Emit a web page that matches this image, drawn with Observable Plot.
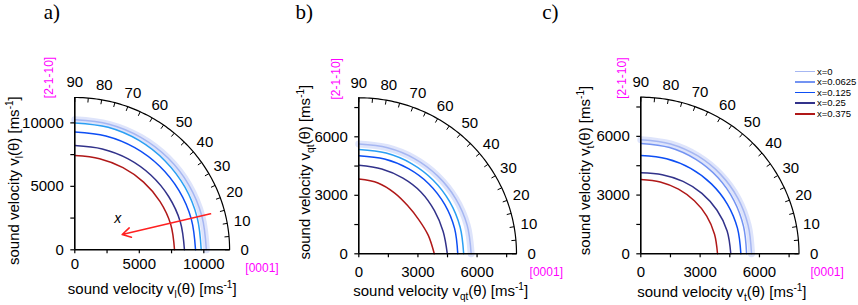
<!DOCTYPE html>
<html>
<head>
<meta charset="utf-8">
<script src="https://cdn.jsdelivr.net/npm/d3@7"></script>
<script src="https://cdn.jsdelivr.net/npm/@observablehq/plot@0.6"></script>
<style>
html,body{margin:0;padding:0;background:#fff;}
#wrap{position:relative;width:858px;height:305px;overflow:hidden;background:#fff;font-family:"Liberation Sans",Arial,sans-serif;}
#wrap svg{position:absolute;left:0;top:0;}
.lg-row{position:absolute;left:795px;height:11px;width:63px;}
.lg-line{position:absolute;left:0;top:5px;width:20px;height:1.6px;}
.lg-text{position:absolute;left:22px;top:0px;font-size:9.5px;line-height:11px;white-space:nowrap;color:#000;}
</style>
</head>
<body>
<div id="wrap"></div>
<script>
// ---------------- data ----------------
const angles = [0, 15, 30, 45, 60, 75, 90];          // θ (deg) from [0001]
const seriesNames = ["x=0", "x=0.0625", "x=0.125", "x=0.25", "x=0.375"];
const arcLabels = [0, 10, 20, 30, 40, 50, 60, 70, 80, 90];

// a) v_l(θ) [m/s]
const vlX0     = [10200, 10200, 10210, 10220, 10230, 10240, 10240];
const vlX00625 = [9800, 9820, 9860, 9900, 9950, 9990, 10000];
const vlX0125  = [9360, 9350, 9330, 9310, 9300, 9290, 9290];
const vlX025   = [8500, 8470, 8400, 8330, 8270, 8220, 8210];
const vlX0375  = [7730, 7700, 7620, 7540, 7470, 7430, 7425];

// b) v_qt(θ) [m/s]
const vqtX0     = [5700, 5690, 5670, 5650, 5640, 5630, 5630];
const vqtX00625 = [5320, 5320, 5330, 5340, 5345, 5350, 5350];
const vqtX0125  = [5020, 5030, 5040, 5050, 5040, 5030, 5030];
const vqtX025   = [4490, 4430, 4430, 4470, 4480, 4500, 4540];
const vqtX0375  = [3830, 3650, 3510, 3500, 3610, 3760, 3830];

// c) v_t(θ) [m/s]
const vtX0     = [5600, 5620, 5670, 5720, 5770, 5810, 5830];
const vtX00625 = [5350, 5380, 5440, 5510, 5570, 5620, 5640];
const vtX0125  = [5060, 5060, 5060, 5050, 5040, 5030, 5025];
const vtX025   = [4550, 4520, 4450, 4370, 4270, 4180, 4140];
const vtX0375  = [3880, 3860, 3850, 3830, 3810, 3800, 3795];

// ticks
const ticksA = [0, 5000, 10000];
const minorA = [2500, 7500];
const ticksBC = [0, 3000, 6000];
const minorBC = [1500, 4500, 7500];

// arrow (panel a)
const arrowFrom = [10520, 2835];
const arrowTo = [3675, 1205];
const arrowLabelAt = [3330, 2440];

// colours
const colorsAB = ["#a6b7f2", "#2a9ff3", "#0d4ef4", "#32328a", "#b01818"];
const colorsC  = ["#a6b7f2", "#7393f2", "#0d4ef4", "#32328a", "#b01818"];
const legendColors = ["#a6b7f2", "#7393f2", "#0d4ef4", "#32328a", "#b01818"];
const bandColor = "#d3dbfa";

// ---------------- helpers ----------------
const RAD = Math.PI / 180;
function richify(svg) {
  d3.select(svg).selectAll("text").each(function () {
    const s = this.textContent;
    if (!/[_^]\{/.test(s)) return;
    const el = d3.select(this);
    el.text(null);
    const re = /([_^])\{([^}]*)\}/g;
    let last = 0, m, shift = 0;
    const push = (t, kind) => {
      if (!t) return;
      const ts = el.append("tspan").text(t);
      const target = kind === "_" ? 4 : kind === "^" ? -6 : 0;
      if (target !== shift) ts.attr("dy", target - shift);
      shift = target;
      if (kind) ts.attr("font-size", "10px");
    };
    while ((m = re.exec(s))) { push(s.slice(last, m.index), null); push(m[2], m[1]); last = re.lastIndex; }
    push(s.slice(last), null);
  });
}

const panels = [
  { label: "a)", R: 12000, ppu: 0.0128, curves: [vlX0, vlX00625, vlX0125, vlX025, vlX0375], colors: colorsAB,
    majors: ticksA, minors: minorA, ml: 74.3, mr: 628.9, mt: 97, mb: 55.7, xPad: 5, yPad: 7,
    title: "sound velocity v_{l}(θ) [ms^{-1}]", xtDx: 0, xtDy: 39.5, ytDx: -61, ytDy: 7,
    lbDx: -31, lbDy: -85, hkDx: -26, hkDy: -20, zDx: 32.4, zDy: 18, arrow: true },
  { label: "b)", R: 8000, ppu: 0.0196, curves: [vqtX0, vqtX00625, vqtX0125, vqtX025, vqtX0375], colors: colorsAB,
    majors: ticksBC, minors: minorBC, ml: 358.3, mr: 342, mt: 97.3, mb: 51.7, xPad: 9, yPad: 7,
    title: "sound velocity v_{qt}(θ) [ms^{-1}]", xtDx: 3, xtDy: 37.5, ytDx: -54, ytDy: -3.6,
    lbDx: -63.3, lbDy: -85.3, hkDx: -22.5, hkDy: -19, zDx: 29.8, zDy: 18.4, arrow: false },
  { label: "c)", R: 8000, ppu: 0.0197, curves: [vtX0, vtX00625, vtX0125, vtX025, vtX0375], colors: colorsC,
    majors: ticksBC, minors: minorBC, ml: 640.3, mr: 59.5, mt: 96.7, mb: 51.7, xPad: 9, yPad: 7,
    title: "sound velocity v_{t}(θ) [ms^{-1}]", xtDx: 2, xtDy: 38, ytDx: -55.5, ytDy: -5,
    lbDx: -98.6, lbDy: -84.7, hkDx: -18.6, hkDy: -19, zDx: 28.2, zDy: 18.4, arrow: false }
];

const wrap = document.getElementById("wrap");

for (const p of panels) {
  const rows = [];
  p.curves.forEach((vals, k) => vals.forEach((v, j) => {
    rows.push({ series: seriesNames[k], k, x: v * Math.cos(angles[j] * RAD), y: v * Math.sin(angles[j] * RAD) });
  }));
  const R = p.R;
  const tl = 4.5 / p.ppu;           // arc tick length (data units)
  const Rl = R + 15 / p.ppu;        // arc label radius
  const arcDeg = d3.range(0, 90.5, 1);
  const arcTicks = d3.range(0, 91, 5);
  const allTicks = [...p.majors, ...p.minors];
  const fmt = d => p.majors.includes(d) ? String(d) : "";
  const txt = { textAnchor: "middle", lineAnchor: "middle", fill: "#000" };

  const marks = [
    // x=0 marker band
    Plot.line(rows.filter(d => d.k === 0), { x: "x", y: "y", stroke: bandColor, strokeWidth: 7, strokeOpacity: 0.75, curve: "catmull-rom" }),
    Plot.line(rows, { x: "x", y: "y", z: "series", stroke: "series", strokeWidth: 1.5, curve: "catmull-rom" }),
    // polar arc and its ticks
    Plot.line(arcDeg, { x: d => R * Math.cos(d * RAD), y: d => R * Math.sin(d * RAD), stroke: "#000", strokeWidth: 1.2 }),
    Plot.link(arcTicks, { x1: d => R * Math.cos(d * RAD), y1: d => R * Math.sin(d * RAD),
      x2: d => (R - tl) * Math.cos(d * RAD), y2: d => (R - tl) * Math.sin(d * RAD), stroke: "#000", strokeWidth: 1 }),
    Plot.text(arcLabels, { ...txt, x: d => Rl * Math.cos(d * RAD), y: d => Rl * Math.sin(d * RAD), text: d => String(d), fontSize: 15 }),
    // axes
    Plot.ruleY([0], { x1: 0, x2: R, stroke: "#000", strokeWidth: 1.6 }),
    Plot.ruleX([0], { y1: 0, y2: R, stroke: "#000", strokeWidth: 1.6 }),
    Plot.axisX({ ticks: allTicks, tickFormat: fmt, tickSize: 4, tickPadding: p.xPad, fontSize: 15, strokeWidth: 1.2, label: null }),
    Plot.axisY({ ticks: allTicks, tickFormat: fmt, tickSize: 4, tickPadding: p.yPad, fontSize: 15, strokeWidth: 1.2, label: null }),
    // titles
    Plot.text([p.title], { ...txt, frameAnchor: "bottom", dx: p.xtDx, dy: p.xtDy, fontSize: 15 }),
    Plot.text([p.title], { ...txt, frameAnchor: "left", rotate: -90, dx: p.ytDx, dy: p.ytDy, fontSize: 15 }),
    Plot.text([p.label], { ...txt, textAnchor: "start", frameAnchor: "top-left", dx: p.lbDx, dy: p.lbDy, fontSize: 21, fontFamily: "Liberation Serif, Times New Roman, serif" }),
    Plot.text(["[2-1-10]"], { ...txt, frameAnchor: "top-left", rotate: -90, dx: p.hkDx, dy: p.hkDy, fontSize: 12, fill: "#f0f" }),
    Plot.text(["[0001]"], { ...txt, frameAnchor: "bottom-right", dx: p.zDx, dy: p.zDy, fontSize: 12, fill: "#f0f" })
  ];
  if (p.arrow) {
    marks.push(Plot.arrow([{ x1: arrowFrom[0], y1: arrowFrom[1], x2: arrowTo[0], y2: arrowTo[1] }],
      { x1: "x1", y1: "y1", x2: "x2", y2: "y2", stroke: "#ff2020", strokeWidth: 1.6, headLength: 9 }));
    marks.push(Plot.text([{ x: arrowLabelAt[0], y: arrowLabelAt[1] }], { ...txt, x: "x", y: "y", text: () => "x", fontSize: 14, fontStyle: "italic" }));
  }

  const svg = Plot.plot({
    width: 858, height: 305,
    marginLeft: p.ml, marginRight: p.mr, marginTop: p.mt, marginBottom: p.mb,
    x: { domain: [0, R] },
    y: { domain: [0, R] },
    color: { type: "ordinal", domain: seriesNames, range: p.colors },
    style: { background: "none", overflow: "visible", fontFamily: "Liberation Sans, Arial, sans-serif", fontSize: "15px", color: "#000" },
    marks
  });
  richify(svg);
  wrap.appendChild(svg);
}

// legend (HTML)
seriesNames.forEach((name, i) => {
  const row = document.createElement("div");
  row.className = "lg-row";
  row.style.top = (65.5 + i * 10.65) + "px";
  const ln = document.createElement("div");
  ln.className = "lg-line";
  ln.style.background = legendColors[i];
  const tx = document.createElement("div");
  tx.className = "lg-text";
  tx.textContent = name;
  row.appendChild(ln); row.appendChild(tx);
  wrap.appendChild(row);
});
</script>
</body>
</html>
